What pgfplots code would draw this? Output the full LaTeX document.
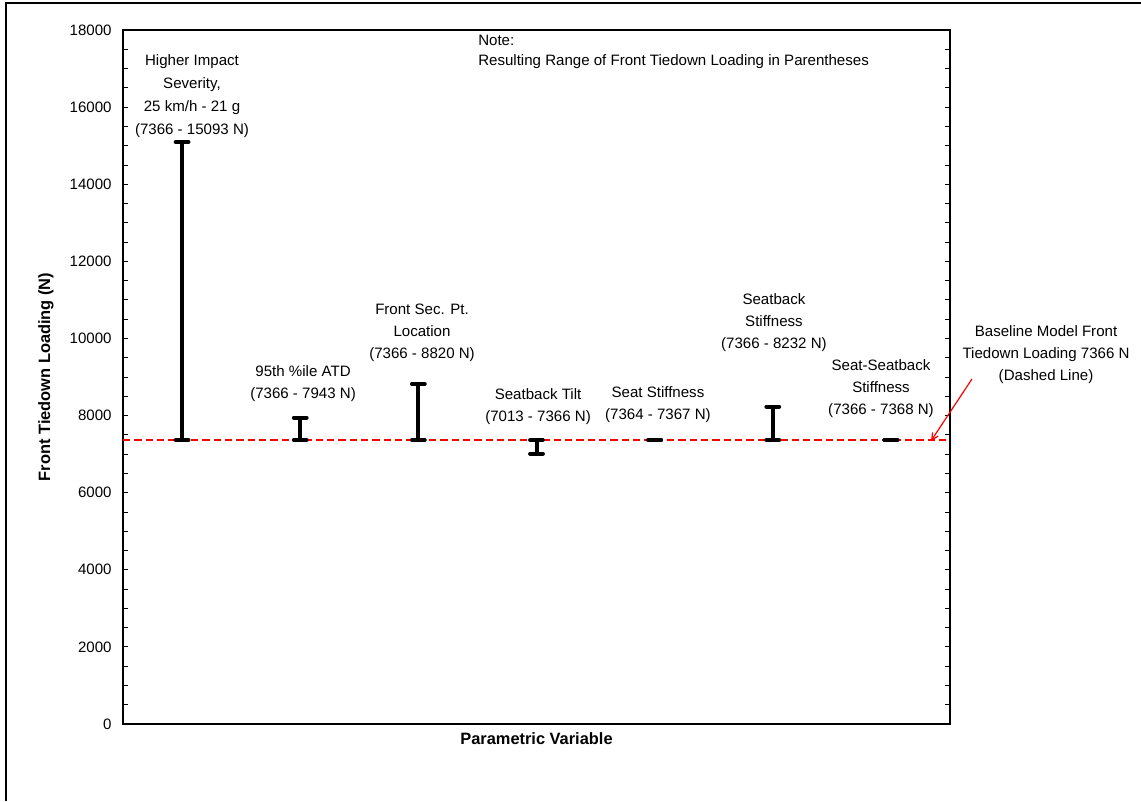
\documentclass[border=0pt]{standalone}
\usepackage{fontspec}
\setmainfont{Liberation Sans}
\usepackage{pgfplots}
\pgfplotsset{compat=1.18}
\usepackage{pgfplotstable}
\usetikzlibrary{arrows.meta}

% ranges of front tiedown loading, one segment per parametric variable
\pgfplotstableread{
x y
1 7366
1 15093
1 nan
2 7366
2 7943
2 nan
3 7366
3 8820
3 nan
4 7013
4 7366
4 nan
5 7364
5 7367
5 nan
6 7366
6 8232
6 nan
7 7366
7 7368
}\ranges

\newcommand\lbl{\fontsize{11.3pt}{16.5pt}\selectfont}

\begin{document}
\begin{tikzpicture}
\begin{axis}[
  at={(92.25pt,57.75pt)}, anchor=south west,
  scale only axis, width=620.25pt, height=520.5pt,
  xmin=0.5, xmax=7.5, ymin=0, ymax=18000,
  xtick=\empty,
  ytick distance=2000, minor y tick num=3,
  tick align=inside,
  major tick length=3.75pt, minor tick length=3.75pt,
  tick style={black, line width=0.6pt},
  scaled y ticks=false,
  yticklabel style={font=\lbl, xshift=-5pt,
    /pgf/number format/.cd, fixed, 1000 sep={}, assume math mode=true},
  axis line style={line width=1pt},
  clip=false,
  xlabel={\bfseries Parametric Variable},
  ylabel={\bfseries Front Tiedown Loading (N)},
  xlabel style={font=\fontsize{12.3pt}{14pt}\selectfont, at={(axis description cs:0.5,-0.0216)}, anchor=center},
  ylabel style={font=\fontsize{12.3pt}{14pt}\selectfont, at={(axis description cs:-0.0931,0.5)}, anchor=center},
]
% baseline model, dashed
\addplot[red, line width=1.5pt, dash pattern=on 5.5pt off 3pt] coordinates {(0.5,7366) (7.5,7366)};
% ranges
\addplot[black, line width=3pt, unbounded coords=jump, mark=-, mark size=4.8pt,
  mark options={line width=3pt, line cap=round}] table {\ranges};

\node[align=center, font=\fontsize{11.3pt}{17.25pt}\selectfont] at (axis cs:1.084,16277)
  {Higher Impact\\Severity,\\25 km/h - 21 g\\(7366 - 15093 N)};
\node[align=center, font=\lbl] at (axis cs:2.024,8820) {95th \%ile ATD\\(7366 - 7943 N)};
\node[align=center, font=\lbl] at (axis cs:3.031,10143) {Front Sec. Pt.\\Location\\(7366 - 8820 N)};
\node[align=center, font=\lbl] at (axis cs:4.013,8223) {Seatback Tilt\\(7013 - 7366 N)};
\node[align=center, font=\lbl] at (axis cs:5.028,8288) {Seat Stiffness\\(7364 - 7367 N)};
\node[align=center, font=\lbl] at (axis cs:6.010,10402) {Seatback\\Stiffness\\(7366 - 8232 N)};
\node[align=center, font=\lbl] at (axis cs:6.916,8703) {Seat-Seatback\\Stiffness\\(7366 - 7368 N)};
\node[align=center, font=\lbl] at (axis cs:8.313,9572) {Baseline Model Front\\Tiedown Loading 7366 N\\(Dashed Line)};
\node[align=left, anchor=north west, inner sep=0pt, font=\fontsize{11.3pt}{15pt}\selectfont]
  at (axis cs:3.505,17873) {Note:\\Resulting Range of Front Tiedown Loading in Parentheses};
\draw[red, line width=0.9pt, -{Straight Barb[length=5pt, width=5pt]}] (axis cs:7.686,8949) -- (axis cs:7.339,7341);
\end{axis}
% outer frame of the chart area
\draw[line width=1.5pt] (4.5pt,0pt) -- (4.5pt,598.5pt) -- (855.75pt,598.5pt);
\pgfresetboundingbox
\path (0pt,0pt) rectangle (855.75pt,600.75pt);
\end{tikzpicture}
\end{document}
